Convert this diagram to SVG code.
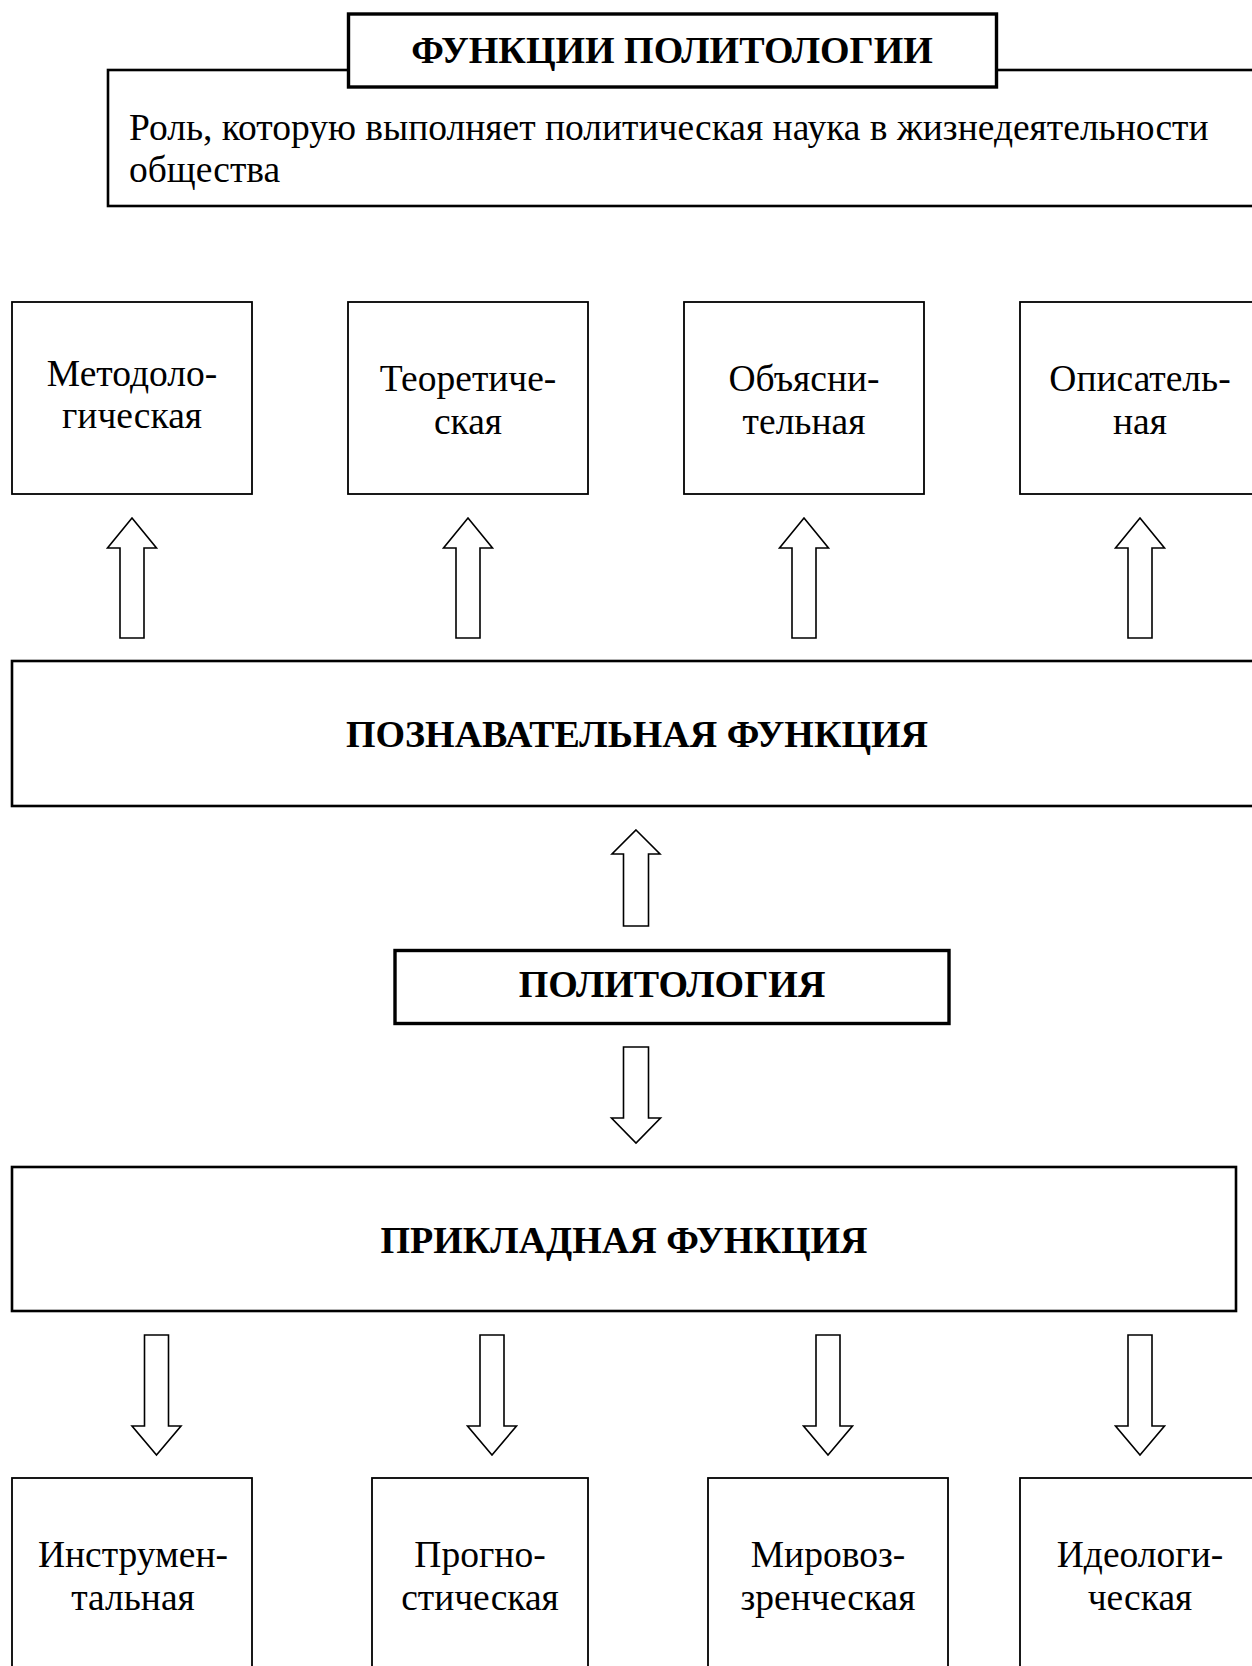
<svg xmlns="http://www.w3.org/2000/svg" width="1252" height="1666" viewBox="0 0 1252 1666">
<style>
  .bg { fill: #ffffff; }
  .box { fill: #ffffff; stroke: #000000; stroke-width: 1.8; }
  .big { fill: #ffffff; stroke: #000000; stroke-width: 2.6; }
  .heavy { fill: #ffffff; stroke: #000000; stroke-width: 3.4; }
  .arrow { fill: #ffffff; stroke: #000000; stroke-width: 1.6; stroke-linejoin: miter; }
  .t { font-family: "Liberation Serif", "Times New Roman", serif; font-size: 37.5px; fill: #000000; }
  .c { text-anchor: middle; }
  .b { font-family: "Liberation Serif", "Times New Roman", serif; font-size: 38px; font-weight: bold; fill: #000000; text-anchor: middle; }
</style>
<rect class="bg" x="0" y="0" width="1252" height="1666"/>

<g id="description">
  <rect class="big" x="108" y="70" width="1160" height="136"/>
  <text class="t" x="129" y="140">Роль, которую выполняет политическая наука в жизнедеятельности</text>
  <text class="t" x="129" y="182">общества</text>
</g>

<g id="title">
  <rect class="heavy" x="348.5" y="14" width="648" height="73"/>
  <text class="b" x="672" y="63">ФУНКЦИИ ПОЛИТОЛОГИИ</text>
</g>

<g id="metodologicheskaya">
  <rect class="box" x="12" y="302" width="240" height="192"/>
  <text class="t c" x="132" y="386">Методоло-</text>
  <text class="t c" x="132" y="428">гическая</text>
</g>
<g id="teoreticheskaya">
  <rect class="box" x="348" y="302" width="240" height="192"/>
  <text class="t c" x="468" y="391">Теоретиче-</text>
  <text class="t c" x="468" y="434">ская</text>
</g>
<g id="obyasnitelnaya">
  <rect class="box" x="684" y="302" width="240" height="192"/>
  <text class="t c" x="804" y="391">Объясни-</text>
  <text class="t c" x="804" y="434">тельная</text>
</g>
<g id="opisatelnaya">
  <rect class="box" x="1020" y="302" width="250" height="192"/>
  <text class="t c" x="1140" y="391">Описатель-</text>
  <text class="t c" x="1140" y="434">ная</text>
</g>

<g id="poznavatelnaya">
  <rect class="big" x="12" y="661" width="1260" height="145"/>
  <text class="b" x="637" y="747">ПОЗНАВАТЕЛЬНАЯ ФУНКЦИЯ</text>
</g>

<g id="politologiya">
  <rect class="heavy" x="395" y="950.5" width="554" height="73"/>
  <text class="b" x="672" y="997">ПОЛИТОЛОГИЯ</text>
</g>

<g id="prikladnaya">
  <rect class="big" x="12" y="1167" width="1224" height="144"/>
  <text class="b" x="624" y="1253">ПРИКЛАДНАЯ ФУНКЦИЯ</text>
</g>

<g id="instrumentalnaya">
  <rect class="box" x="12" y="1478" width="240" height="220"/>
  <text class="t c" x="133" y="1567">Инструмен-</text>
  <text class="t c" x="133" y="1610">тальная</text>
</g>
<g id="prognosticheskaya">
  <rect class="box" x="372" y="1478" width="216" height="220"/>
  <text class="t c" x="480" y="1567">Прогно-</text>
  <text class="t c" x="480" y="1610">стическая</text>
</g>
<g id="mirovozzrencheskaya">
  <rect class="box" x="708" y="1478" width="240" height="220"/>
  <text class="t c" x="828" y="1567">Мировоз-</text>
  <text class="t c" x="828" y="1610">зренческая</text>
</g>
<g id="ideologicheskaya">
  <rect class="box" x="1020" y="1478" width="250" height="220"/>
  <text class="t c" x="1140" y="1567">Идеологи-</text>
  <text class="t c" x="1140" y="1610">ческая</text>
</g>

<g id="connectors">
  <path class="arrow" d="M132,518 L156.5,548 L144,548 L144,638 L120,638 L120,548 L107.5,548 Z"/>
  <path class="arrow" d="M468,518 L492.5,548 L480,548 L480,638 L456,638 L456,548 L443.5,548 Z"/>
  <path class="arrow" d="M804,518 L828.5,548 L816,548 L816,638 L792,638 L792,548 L779.5,548 Z"/>
  <path class="arrow" d="M1140,518 L1164.5,548 L1152,548 L1152,638 L1128,638 L1128,548 L1115.5,548 Z"/>
  <path class="arrow" d="M636,830 L660,854 L648.5,854 L648.5,926 L623.5,926 L623.5,854 L612,854 Z"/>
  <path class="arrow" d="M623.5,1047 L648.5,1047 L648.5,1118 L660.5,1118 L636,1143 L611.5,1118 L623.5,1118 Z"/>
  <path class="arrow" d="M144.5,1335 L168.5,1335 L168.5,1426 L181,1426 L156.5,1455 L132,1426 L144.5,1426 Z"/>
  <path class="arrow" d="M480,1335 L504,1335 L504,1426 L516.5,1426 L492,1455 L467.5,1426 L480,1426 Z"/>
  <path class="arrow" d="M816,1335 L840,1335 L840,1426 L852.5,1426 L828,1455 L803.5,1426 L816,1426 Z"/>
  <path class="arrow" d="M1128,1335 L1152,1335 L1152,1426 L1164.5,1426 L1140,1455 L1115.5,1426 L1128,1426 Z"/>
</g>
</svg>
